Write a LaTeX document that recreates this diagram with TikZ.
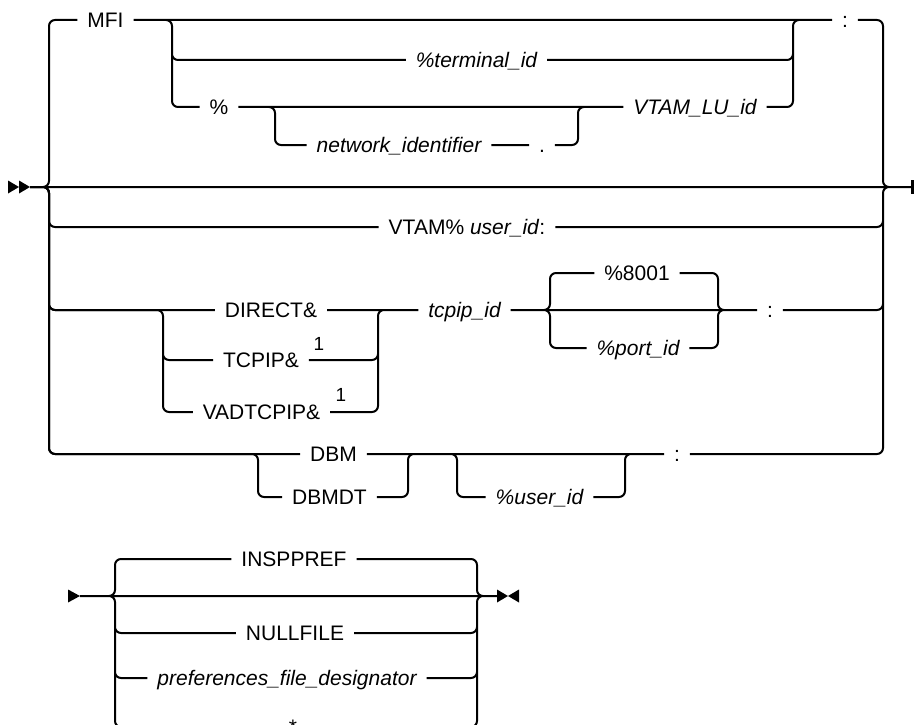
\documentclass[tikz,border=0pt]{standalone}
\usepackage{fontspec}
\setmainfont{Liberation Sans}
\usepackage{tikz}
\usetikzlibrary{arrows.meta, positioning, calc}

\begin{document}
\begin{tikzpicture}[x=1pt, y=-1pt, line width=2pt,
    rail/.style={rounded corners=6pt},
    tok/.style={inner xsep=9pt, inner ysep=0pt, text height=15pt, text depth=0pt, font=\fontsize{21}{25}\selectfont},
    var/.style={tok, font=\fontsize{21}{25}\selectfont\itshape},
    fnote/.style={inner sep=0pt, font=\fontsize{19}{21}\selectfont}]
    \useasboundingbox (0,0) rectangle (914,725);
    % Branch points, first diagram
    \coordinate (d1in) at (30,187);
    \coordinate (L1) at (49,187);
    \coordinate (R1) at (883,187);
    \coordinate (d1out) at (912,187);
    \coordinate (A1) at (172,20);
    \coordinate (A2) at (793,20);
    \coordinate (B1) at (275,107);
    \coordinate (B2) at (578,107);
    \coordinate (C1) at (163,310);
    \coordinate (C2) at (378,310);
    \coordinate (D1) at (550,310);
    \coordinate (D2) at (718,310);
    \coordinate (E1) at (258,454);
    \coordinate (E2) at (408,454);
    \coordinate (F1) at (457,454);
    \coordinate (F2) at (625,454);
    % Tokens, MFI group
    \node[tok] (mfi) at (105.5,20) {MFI};
    \node[tok] (colon1) at (845,20) {:};
    \node[var] (term) at (476.5,60) {\%terminal\_id};
    \node[tok] (pct) at (219,107) {\%};
    \node[var] (netid) at (399,145) {network\_identifier};
    \node[tok] (dot) at (542,145) {.};
    \node[var] (vlu) at (695,107) {VTAM\_LU\_id};
    % VTAM row
    \node[tok] (vtam) at (467,227) {VTAM\% \textit{user\_id}:};
    % TCP/IP group
    \node[tok] (direct) at (271,310) {DIRECT\&};
    \node[tok] (tcp) at (261,360) {TCPIP\&};
    \node[fnote] (note1) at (319,344) {1};
    \node[tok] (vad) at (261.5,412) {VADTCPIP\&};
    \node[fnote] (note2) at (341,395) {1};
    \node[var] (tcpipid) at (464.5,310) {tcpip\_id};
    \node[tok] (p8001) at (637,273) {\%8001};
    \node[var] (portid) at (638,348) {\%port\_id};
    \node[tok] (colon2) at (770,310) {:};
    % DBM group
    \node[tok] (dbm) at (333.5,454) {DBM};
    \node[tok] (dbmdt) at (329.5,497) {DBMDT};
    \node[var] (userid) at (539.5,497) {\%user\_id};
    \node[tok] (colon3) at (677,454) {:};
    % Start and end marks
    \fill (8,180.5) -- (19,187) -- (8,193.5) -- cycle;
    \fill (19,180.5) -- (30,187) -- (19,193.5) -- cycle;
    \draw[line width=3pt] (d1out) ++(0,-7) -- ++(0,14);
    % Main line and first choice
    \draw[rail] (d1in) -- (d1out)
        (d1in) -| (mfi.west -| L1) -- (mfi.west)
        (colon1.east) -| (R1) -- (d1out)
        (d1in) -| (vtam.west -| L1) -- (vtam.west)
        (vtam.east) -| (R1) -- (d1out)
        (d1in) -| (direct.west -| L1) -- (direct.west)
        (colon2.east) -| (R1) -- (d1out)
        (d1in) -| (dbm.west -| L1) -- (dbm.west)
        (colon3.east) -| (R1) -- (d1out);
    % MFI alternatives
    \draw[rail] (mfi.east) -- (colon1.west)
        (mfi.east) -| (term.west -| A1) -- (term.west)
        (term.east) -| (A2) -- (colon1.west)
        (mfi.east) -| (pct.west -| A1) -- (pct.west)
        (vlu.east) -| (A2) -- (colon1.west)
        (pct.east) -- (vlu.west)
        (pct.east) -| (netid.west -| B1) -- (netid.west)
        (netid.east) -- (dot.west)
        (dot.east) -| (B2) -- (vlu.west);
    % TCP/IP alternatives
    \draw[rail] (direct.east) -- (tcpipid.west)
        (d1in) -| (direct.west -| L1) -| (tcp.west -| C1) -- (tcp.west)
        (d1in) -| (direct.west -| L1) -| (vad.west -| C1) -- (vad.west)
        (tcp.east) -| (C2) -- (tcpipid.west)
        (vad.east) -| (C2) -- (tcpipid.west)
        (tcpipid.east) -- (colon2.west)
        (tcpipid.east) -| (p8001.west -| D1) -- (p8001.west)
        (p8001.east) -| (D2) -- (colon2.west)
        (tcpipid.east) -| (portid.west -| D1) -- (portid.west)
        (portid.east) -| (D2) -- (colon2.west);
    % DBM alternatives
    \draw[rail] (dbm.east) -- (colon3.west)
        (d1in) -| (dbm.west -| L1) -| (dbmdt.west -| E1) -- (dbmdt.west)
        (dbmdt.east) -| (E2) -- (dbm.east -| F1)
        (dbm.east) -| (userid.west -| F1) -- (userid.west)
        (userid.east) -| (F2) -- (colon3.west);
    % Second diagram
    \coordinate (d2in) at (80,596);
    \coordinate (L2) at (115,596);
    \coordinate (R2) at (477,596);
    \coordinate (d2out) at (497,596);
    \node[tok] (insp) at (294,559) {INSPPREF};
    \node[tok] (nullf) at (295,633) {NULLFILE};
    \node[var] (pref) at (287,678) {preferences\_file\_designator};
    \node[tok] (star) at (293,727) {*};
    \fill (68,589.5) -- (80,596) -- (68,602.5) -- cycle;
    \fill (497,589.5) -- (508,596) -- (497,602.5) -- cycle;
    \fill (519,589.5) -- (508,596) -- (519,602.5) -- cycle;
    \draw[rail] (d2in) -- (d2out)
        (d2in) -| (insp.west -| L2) -- (insp.west)
        (insp.east) -| (R2) -- (d2out)
        (d2in) -| (nullf.west -| L2) -- (nullf.west)
        (nullf.east) -| (R2) -- (d2out)
        (d2in) -| (pref.west -| L2) -- (pref.west)
        (pref.east) -| (R2) -- (d2out)
        (d2in) -| (star.west -| L2) -- (star.west)
        (star.east) -| (R2) -- (d2out);
\end{tikzpicture}
\end{document}
